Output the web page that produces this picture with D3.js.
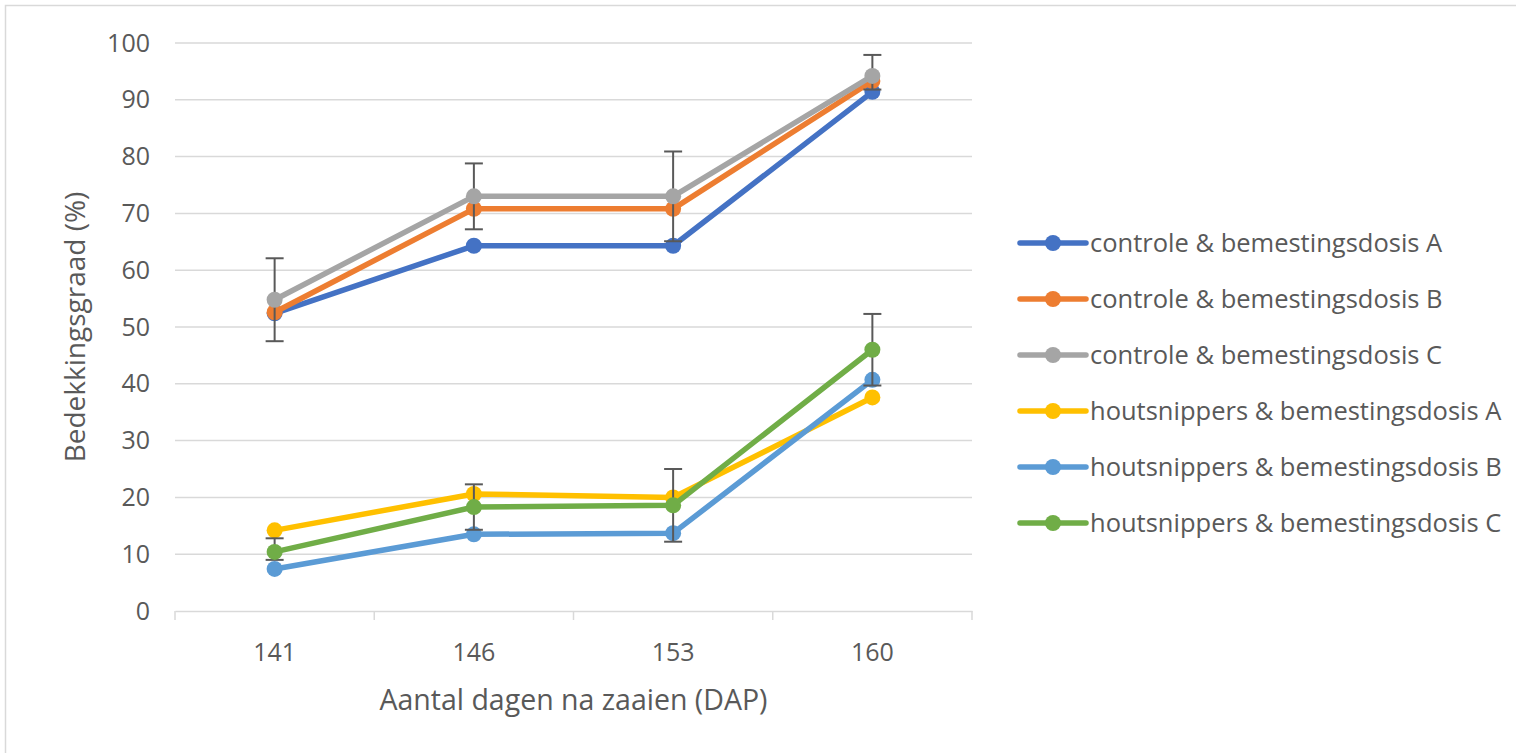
<!DOCTYPE html>
<html><head><meta charset="utf-8">
<script src="https://cdn.jsdelivr.net/npm/d3@7"></script>
<style>body{margin:0;background:#fff;}svg{display:block;}</style>
</head><body>
<script>
const categories = ["141","146","153","160"];
const seriesNames = [
  "controle & bemestingsdosis A",
  "controle & bemestingsdosis B",
  "controle & bemestingsdosis C",
  "houtsnippers & bemestingsdosis A",
  "houtsnippers & bemestingsdosis B",
  "houtsnippers & bemestingsdosis C"
];
const seriesColors = ["#4472C4","#ED7D31","#A5A5A5","#FFC000","#5B9BD5","#70AD47"];
const controleA = [52.4, 64.3, 64.3, 91.4];
const controleB = [52.6, 70.8, 70.8, 93.3];
const controleC = [54.8, 73.0, 73.0, 94.2];
const houtA = [14.2, 20.6, 20.0, 37.6];
const houtB = [7.4, 13.5, 13.7, 40.7];
const houtC = [10.4, 18.3, 18.6, 46.0];
const errPlusControleC = [7.3, 5.8, 7.9, 3.7];
const errMinusControleC = [7.3, 5.8, 7.9, 2.4];
const errPlusHoutC = [2.4, 4.0, 6.4, 6.3];
const errMinusHoutC = [1.4, 4.0, 6.4, 6.3];
const yTicks = [0,10,20,30,40,50,60,70,80,90,100];

const values = [controleA, controleB, controleC, houtA, houtB, houtC];
const errors = [null, null, [errPlusControleC, errMinusControleC], null, null, [errPlusHoutC, errMinusHoutC]];

const W = 1516, H = 753;
const svg = d3.select("body").append("svg").attr("width", W).attr("height", H);
svg.append("rect").attr("x",5.5).attr("y",5.5).attr("width",W+10).attr("height",H+10)
  .attr("fill","#fff").attr("stroke","#d9d9d9").attr("stroke-width",1.5);

const pLeft = 175, pRight = 972, pTop = 43, pBottom = 611;
const x = d3.scaleBand().domain(categories).range([pLeft, pRight]);
const y = d3.scaleLinear().domain([0,100]).range([pBottom, pTop]);
const font = "'Open Sans', 'Liberation Sans', sans-serif";
const textColor = "#595959";

// gridlines
svg.append("g").selectAll("line").data(yTicks.filter(d=>d>0)).join("line")
  .attr("x1", pLeft).attr("x2", pRight).attr("y1", d=>y(d)).attr("y2", d=>y(d))
  .attr("stroke", "#d9d9d9").attr("stroke-width", 1.5);

// y axis labels
const yAxis = svg.append("g").attr("transform", `translate(${pLeft},0)`)
  .call(d3.axisLeft(y).tickValues(yTicks).tickSize(0).tickPadding(25));
yAxis.select(".domain").remove();
yAxis.selectAll("text").attr("font-family", font).attr("font-size", 25).attr("fill", textColor);

// x axis
const xAxis = svg.append("g").attr("transform", `translate(0,${pBottom})`)
  .call(d3.axisBottom(x).tickSize(0).tickPadding(32));
xAxis.select(".domain").attr("stroke", "#d9d9d9").attr("stroke-width", 1.5);
xAxis.selectAll("text").attr("font-family", font).attr("font-size", 25).attr("fill", textColor);
const bounds = categories.map(c => x(c)).concat([x(categories[categories.length-1]) + x.bandwidth()]);
svg.append("g").selectAll("line").data(bounds).join("line")
  .attr("x1", d=>d).attr("x2", d=>d).attr("y1", pBottom).attr("y2", pBottom+9)
  .attr("stroke", "#d9d9d9").attr("stroke-width", 1.5);

// axis titles
svg.append("text").attr("x", (pLeft+pRight)/2).attr("y", 710).attr("text-anchor","middle")
  .attr("font-family", font).attr("font-size", 28.5).attr("fill", textColor)
  .text("Aantal dagen na zaaien (DAP)");
svg.append("text").attr("transform", `translate(85,${(pTop+pBottom)/2}) rotate(-90)`)
  .attr("text-anchor","middle").attr("font-family", font).attr("font-size", 28).attr("fill", textColor)
  .text("Bedekkingsgraad (%)");

const cx = c => x(c) + x.bandwidth()/2;
const line = d3.line().x((d,i)=>cx(categories[i])).y(d=>y(d));

values.forEach((vals, s) => {
  const g = svg.append("g");
  g.append("path").datum(vals).attr("d", line).attr("fill","none")
    .attr("stroke", seriesColors[s]).attr("stroke-width", 5.5).attr("stroke-linejoin","round");
  if (errors[s]) {
    const eg = g.append("g");
    vals.forEach((v,i) => {
      const ep = errors[s][0][i], em = errors[s][1][i], px = cx(categories[i]);
      eg.append("line").attr("x1",px).attr("x2",px).attr("y1",y(v+ep)).attr("y2",y(v-em))
        .attr("stroke","#595959").attr("stroke-width",2);
      [v+ep, v-em].forEach(t => eg.append("line").attr("x1",px-9).attr("x2",px+9)
        .attr("y1",y(t)).attr("y2",y(t)).attr("stroke","#595959").attr("stroke-width",2));
    });
  }
  g.selectAll("circle").data(vals).join("circle")
    .attr("cx",(d,i)=>cx(categories[i])).attr("cy",d=>y(d)).attr("r",8)
    .attr("fill", seriesColors[s]);
});

// legend
const lg = svg.append("g");
seriesNames.forEach((name, i) => {
  const yy = 243 + i*56;
  lg.append("line").attr("x1",1020).attr("x2",1086).attr("y1",yy).attr("y2",yy)
    .attr("stroke", seriesColors[i]).attr("stroke-width",5.5).attr("stroke-linecap","round");
  lg.append("circle").attr("cx",1053).attr("cy",yy).attr("r",8).attr("fill",seriesColors[i]);
  lg.append("text").attr("x",1090).attr("y",yy).attr("dy","0.35em")
    .attr("font-family", font).attr("font-size", 25.5).attr("fill", textColor).text(name);
});
</script>
</body></html>
